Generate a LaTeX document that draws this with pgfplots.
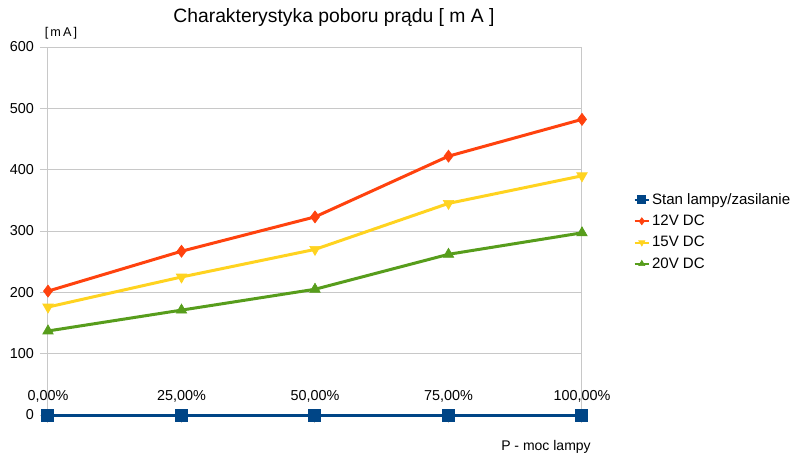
\documentclass[border=0pt]{standalone}
\usepackage{pgfplots}
\pgfplotsset{compat=1.18}
\usepackage{fontspec}
\setmainfont{Liberation Sans}
\definecolor{lblue}{HTML}{004586}
\definecolor{lorange}{HTML}{FF420E}
\definecolor{lyellow}{HTML}{FFD320}
\definecolor{lgreen}{HTML}{579D1C}
\definecolor{gridc}{HTML}{C8C8C8}

\begin{document}
\begin{tikzpicture}
\useasboundingbox (0,0) rectangle (605.25pt,342.75pt);
\begin{axis}[
    at={(36pt,31.5pt)}, anchor=south west,
    scale only axis,
    width=400.5pt, height=276pt,
    xmin=0, xmax=4, ymin=0, ymax=600,
    xtick={0,1,2,3,4},
    xticklabels={{0,00\%},{25,00\%},{50,00\%},{75,00\%},{100,00\%}},
    ytick={0,100,...,600},
    ymajorgrids,
    grid style={gridc, line width=0.75pt},
    separate axis lines,
    x axis line style={draw=none},
    y axis line style={draw=gridc, line width=0.75pt},
    tick style={gridc, line width=0.75pt},
    tick align=outside,
    major tick length=6pt,
    xtick pos=lower, ytick pos=left,
    /pgf/number format/assume math mode=true,
    ticklabel style={font=\fontsize{10.8pt}{12pt}\selectfont},
    xticklabel style={anchor=south, yshift=12pt},
    yticklabel style={xshift=-1pt},
    clip=false,
    legend style={at={(439pt,168pt)}, anchor=north west, draw=none,
      font=\fontsize{11.3pt}{13pt}\selectfont, row sep=3.6pt,
      inner sep=0pt, nodes={inner sep=1.5pt}},
    legend cell align=left,
    legend image code/.code={
      \draw[mark repeat=2,mark phase=2,#1, line width=1.5pt, mark size=2.6pt]
        plot coordinates {(0cm,0cm) (0.19cm,0cm) (0.38cm,0cm)};
    },
]
\addplot[color=lblue, line width=2.25pt, mark=square*, mark size=3.75pt,
  mark options={solid}] coordinates {
  (0,0) (1,0) (2,0) (3,0) (4,0)
};
\addlegendentry{Stan lampy/zasilanie}
\addplot[color=lorange, line width=2.25pt, mark=diamond*, mark size=4.5pt,
  mark options={solid, line width=0.5pt}] coordinates {
  (0,202) (1,267) (2,323) (3,422) (4,482)
};
\addlegendentry{12V DC}
\addplot[color=lyellow, line width=2.25pt, mark=triangle*, mark size=4.5pt,
  mark options={solid, rotate=180, line width=0.5pt}] coordinates {
  (0,176) (1,225) (2,270) (3,345) (4,390)
};
\addlegendentry{15V DC}
\addplot[color=lgreen, line width=2.25pt, mark=triangle*, mark size=4.5pt,
  mark options={solid, line width=0.5pt}] coordinates {
  (0,137) (1,171) (2,205) (3,262) (4,297)
};
\addlegendentry{20V DC}
\end{axis}
\node[font=\fontsize{14.5pt}{17pt}\selectfont] at (250.5pt,329.25pt)
  {Charakterystyka poboru prądu [ m A ]};
\node[font=\fontsize{9.5pt}{11pt}\selectfont] at (45.75pt,318pt) {[\,m\,A\,]};
\node[font=\fontsize{10.5pt}{12pt}\selectfont] at (409.5pt,7.5pt) {P - moc lampy};
\end{tikzpicture}
\end{document}
